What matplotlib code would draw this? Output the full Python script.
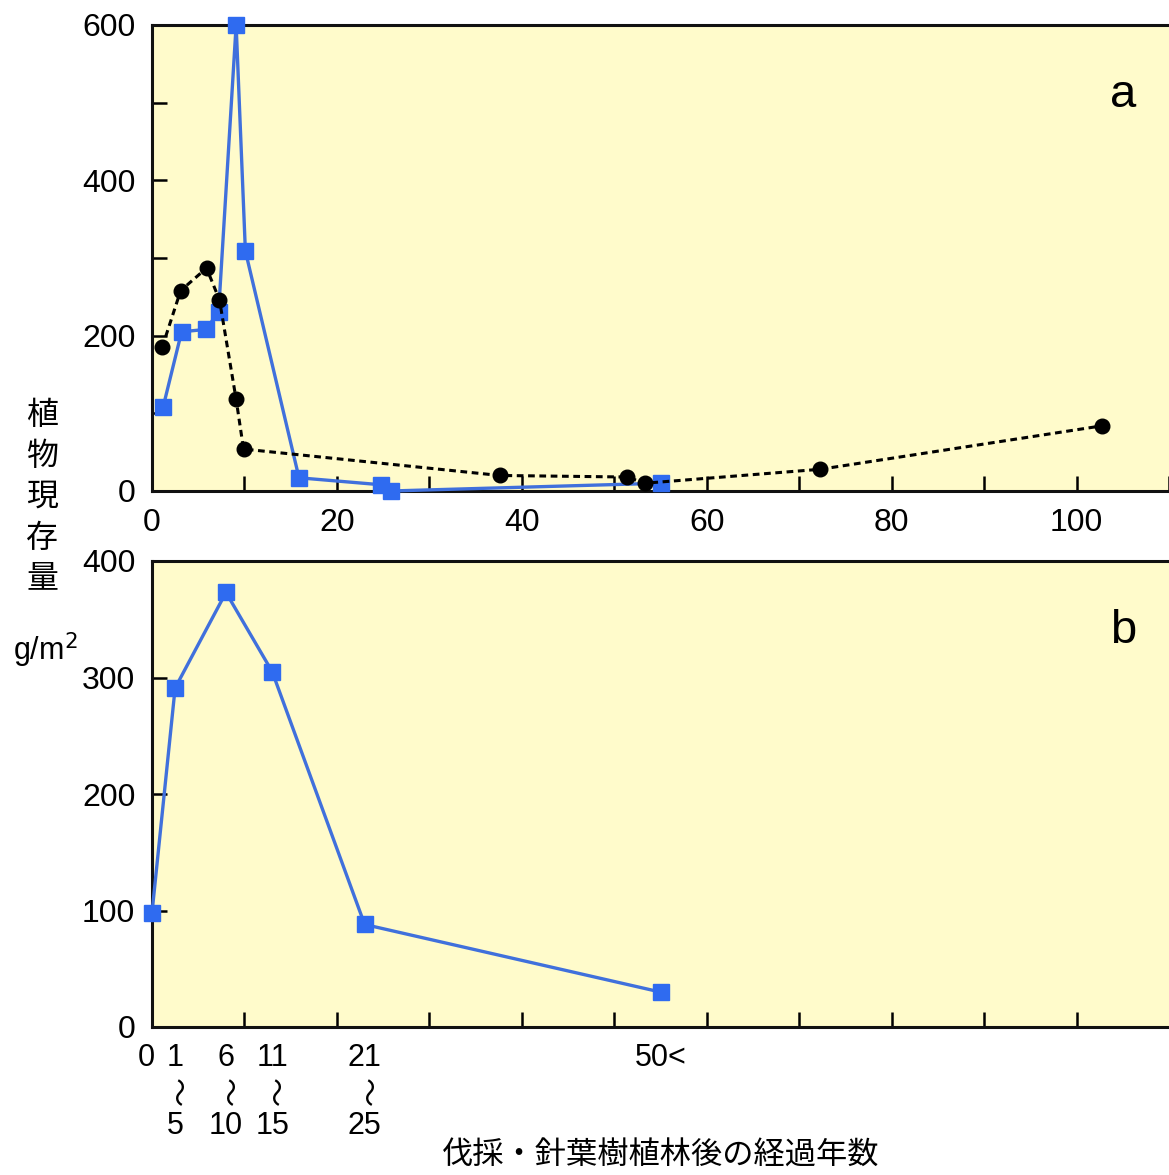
import matplotlib
matplotlib.use("Agg")
import matplotlib.pyplot as plt
from matplotlib.ticker import MultipleLocator, FixedLocator, NullFormatter

plt.rcParams['font.family'] = ['Liberation Sans', 'Noto Sans CJK JP', 'DejaVu Sans']

# Panel a data
sq_x = [1.2, 3.2, 5.8, 7.2, 9.1, 10.1, 15.9, 24.8, 25.8, 55.0]
sq_y = [108, 205, 208, 230, 600, 309, 17, 8, 0, 10]
ci_x = [1.1, 3.1, 5.9, 7.3, 9.1, 9.9, 37.6, 51.4, 53.3, 72.3, 102.8]
ci_y = [185, 258, 287, 246, 118, 54, 20, 18, 10, 28, 84]

# Panel b data
b_x = [0, 2.5, 8, 13, 23, 55]
b_y = [98, 291, 373, 305, 88, 30]
b_top = ['0', '1', '6', '11', '21', '50<']
b_bot = ['', '5', '10', '15', '25', '']

BG = '#FFFBCB'
BLUE = '#4070DC'
MBLUE = '#2F6BF0'

W, H = 1169, 1175
fig = plt.figure(figsize=(W / 100, H / 100), dpi=100)

def rect(l, t, r, b):
    return [l / W, 1 - b / H, (r - l) / W, (b - t) / H]

axa = fig.add_axes(rect(152, 25, 1169, 491))
axb = fig.add_axes(rect(152, 561, 1169, 1027))

for ax in (axa, axb):
    ax.set_facecolor(BG)
    ax.spines['right'].set_visible(False)
    for s in ('left', 'bottom', 'top'):
        ax.spines[s].set_linewidth(2.2)
        ax.spines[s].set_color('#111111')
    ax.set_xlim(0, 110)
    ax.tick_params(which='both', direction='in', width=1.8, labelsize=23,
                   top=False, right=False)
    ax.tick_params(which='major', length=11, pad=12)
    ax.tick_params(which='minor', length=11)

# Panel a
axa.plot(sq_x, sq_y, color=BLUE, lw=2.4, marker='s', ms=11,
         mfc=MBLUE, mec=MBLUE, zorder=3, clip_on=False)
axa.plot(ci_x, ci_y, color='black', lw=2.2, ls=(0, (2.2, 1.5)), marker='o',
         ms=10.5, mfc='black', mec='black', zorder=4, clip_on=False)
axa.set_ylim(0, 600)
axa.yaxis.set_major_locator(MultipleLocator(200))
axa.yaxis.set_minor_locator(MultipleLocator(100))
axa.xaxis.set_major_locator(MultipleLocator(20))
axa.xaxis.set_minor_locator(MultipleLocator(10))
axa.text(0.955, 0.85, 'a', transform=axa.transAxes, fontsize=34,
         ha='center', va='center')

# Panel b
axb.plot(b_x, b_y, color=BLUE, lw=2.4, marker='s', ms=11,
         mfc=MBLUE, mec=MBLUE, zorder=3, clip_on=False)
axb.set_ylim(0, 400)
axb.yaxis.set_major_locator(MultipleLocator(100))
axb.xaxis.set_major_locator(FixedLocator(b_x))
axb.xaxis.set_major_formatter(NullFormatter())
axb.xaxis.set_minor_locator(FixedLocator(list(range(10, 110, 10))))
axb.tick_params(axis='x', which='major', length=0)
axb.text(0.955, 0.85, 'b', transform=axb.transAxes, fontsize=34,
         ha='center', va='center')

trans = axb.get_xaxis_transform()
for x, t, b in zip(b_x, b_top, b_bot):
    xx = x - 0.6 if t == '0' else x
    axb.text(xx, -0.066, t, transform=trans, ha='center', va='center',
             fontsize=22, clip_on=False)
    if b:
        axb.text(x, -0.141, '〜', transform=trans, ha='center', va='center',
                 fontsize=21, rotation=-90, clip_on=False,
                 family=['Noto Sans CJK JP'])
        axb.text(x, -0.212, b, transform=trans, ha='center', va='center',
                 fontsize=22, clip_on=False)

# Axis labels
fig.text(42 / W, 1 - 497 / H, '植\n物\n現\n存\n量', ha='center', va='center',
         fontsize=23, linespacing=1.35, family=['Noto Sans CJK JP'])
fig.text(45 / W, 1 - 650 / H, 'g/m$^2$', ha='center', va='center', fontsize=22)
fig.text(661 / W, 1 - 1156 / H, '伐採・針葉樹植林後の経過年数', ha='center',
         va='center', fontsize=22.5, family=['Noto Sans CJK JP'])

fig.savefig('out.png', dpi=100)
